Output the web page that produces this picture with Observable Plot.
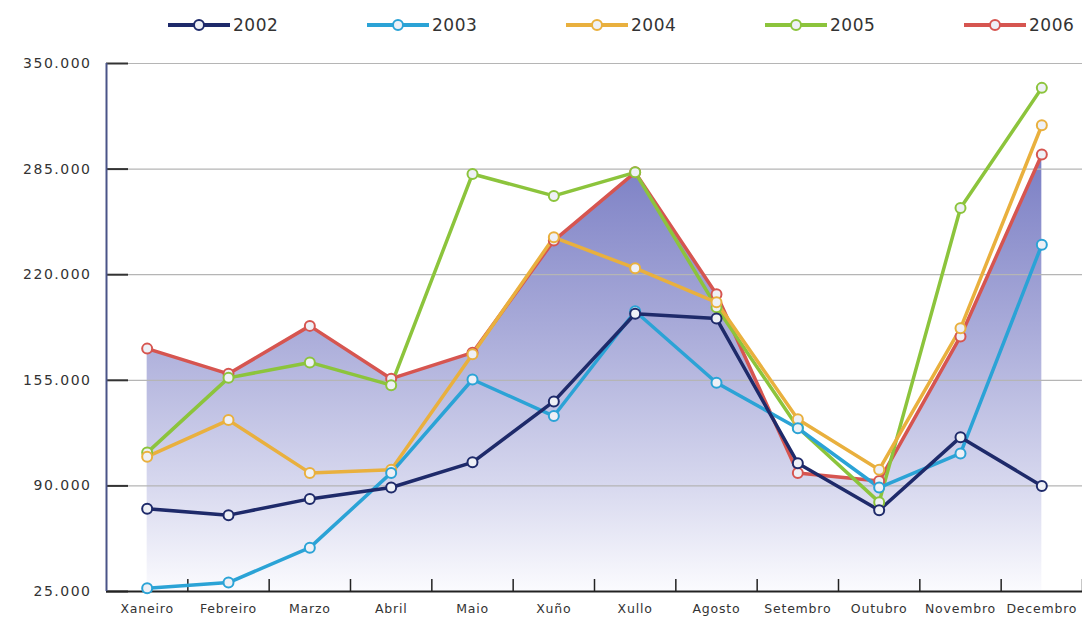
<!DOCTYPE html>
<html><head><meta charset="utf-8">
<script src="https://cdn.jsdelivr.net/npm/d3@7"></script>
<script src="https://cdn.jsdelivr.net/npm/@observablehq/plot@0.6"></script>
<style>
body{margin:0;background:#fff;font-family:"DejaVu Sans",Arial,sans-serif;}
#legend{height:50px;position:relative;width:1082px;}
.item{position:absolute;top:15px;display:flex;align-items:center;font-size:17px;letter-spacing:0.5px;color:#333;}
.item svg{margin-right:3px;}
.ylab text{letter-spacing:1.5px;}
.xlab text{letter-spacing:0.8px;}
</style></head><body>
<div id="legend"></div><div id="chart"></div>
<script>
const months = ["Xaneiro","Febreiro","Marzo","Abril","Maio","Xuño","Xullo","Agosto","Setembro","Outubro","Novembro","Decembro"];
const years = ["2002","2003","2004","2005","2006"];
const v2002 = [76000, 72000, 82000, 89000, 104500, 142000, 196000, 193000, 104000, 75000, 120000, 90000];
const v2003 = [27000, 30500, 52000, 98000, 155500, 133000, 197500, 153500, 125500, 89000, 110000, 238500];
const v2004 = [108000, 130500, 98000, 100000, 171000, 243000, 224000, 203000, 131000, 100000, 187000, 312000];
const v2005 = [110500, 156500, 166000, 152000, 282000, 268500, 283000, 200000, 126000, 80000, 261000, 335000];
const v2006 = [174500, 159000, 188500, 156000, 172000, 241000, 283000, 208000, 98000, 93000, 182000, 294000];
const colors = ["#1e2a6a", "#2ba3d6", "#e9b03e", "#8cc43c", "#d65550"];
const yTicks = [25000, 90000, 155000, 220000, 285000, 350000];

const series = [v2002, v2003, v2004, v2005, v2006];

// legend
const legend = document.getElementById("legend");
years.forEach((y, k) => {
  const it = document.createElement("div");
  it.className = "item";
  it.style.left = (168 + k * 199) + "px";
  it.innerHTML = `<svg width="62" height="14"><line x1="0" y1="7" x2="62" y2="7" stroke="${colors[k]}" stroke-width="4"/><circle cx="31" cy="7" r="5" fill="#eef0f6" stroke="${colors[k]}" stroke-width="2"/></svg><span>${y}</span>`;
  legend.appendChild(it);
});

// data table: draw 2006 first, 2002 last
const data = years.map((y, k) => series[k].map((v, i) => ({year: y, month: i, value: v}))).reverse().flat();
const area2006 = data.filter(d => d.year === "2006");

const defs = () => {
  const d = d3.create("svg:defs");
  const g = d.append("linearGradient").attr("id", "fillGrad").attr("x1", 0).attr("y1", 0).attr("x2", 0).attr("y2", 1);
  [[0, "#7a7ec4"], [0.4, "#a9abd9"], [0.75, "#d6d7ee"], [1, "#fbfbfe"]].forEach(([o, c]) =>
    g.append("stop").attr("offset", o).attr("stop-color", c));
  return d.node();
};

const fmt = d => d3.format(",")(d).replace(/,/g, ".");

const chart = Plot.plot({
  width: 1082, height: 578,
  marginLeft: 106, marginRight: 0, marginTop: 13, marginBottom: 37,
  x: {domain: [-0.5, 11.5], axis: null},
  y: {domain: [yTicks[0], yTicks[yTicks.length - 1]], axis: null},
  color: {domain: years, range: colors},
  style: {fontFamily: "DejaVu Sans, Arial, sans-serif", background: "transparent"},
  marks: [
    defs,
    Plot.areaY(area2006, {x: "month", y1: yTicks[0], y2: "value", fill: "url(#fillGrad)"}),
    Plot.ruleY(yTicks.slice(1), {stroke: "#b5b5b5", strokeWidth: 1.2}),
    Plot.axisY(yTicks, {label: null, tickSize: 0, tickPadding: 15, tickFormat: fmt, fontSize: 14, color: "#333", className: "ylab"}),
    Plot.axisY(yTicks, {label: null, tickSize: -22, text: null, stroke: "#333", strokeWidth: 2}),
    Plot.axisX(d3.range(months.length), {label: null, tickSize: 0, tickPadding: 13, tickFormat: i => months[i], fontSize: 12.5, color: "#333", className: "xlab"}),
    Plot.axisX(d3.range(months.length).map(i => i + 0.5), {label: null, tickSize: -12, text: null, stroke: "#222", strokeWidth: 1.5}),
    Plot.ruleY([yTicks[0]], {stroke: "#222", strokeWidth: 2}),
    Plot.ruleX([-0.5], {stroke: "#4a5488", strokeWidth: 2}),
    Plot.line(data, {x: "month", y: "value", z: "year", stroke: "year", strokeWidth: 3.5, strokeLinejoin: "round"}),
    Plot.dot(data, {x: "month", y: "value", stroke: "year", fill: "#eef0f6", r: 5, strokeWidth: 2})
  ]
});
document.getElementById("chart").appendChild(chart);
</script>
</body></html>
